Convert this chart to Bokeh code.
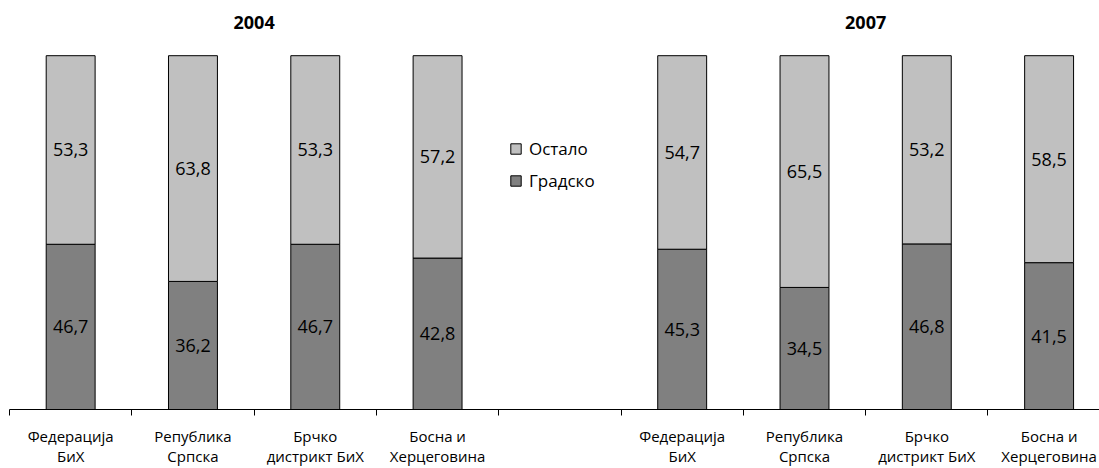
from bokeh.plotting import figure
from bokeh.models import (ColumnDataSource, Range1d, FixedTicker, Legend, LegendItem,
                          Label, LabelSet)
from bokeh.core.properties import value
from bokeh.embed import file_html
from bokeh.resources import INLINE

years = ["2004", "2007"]
regions = ["Федерација\nБиХ", "Република\nСрпска", "Брчко\nдистрикт БиХ", "Босна и\nХерцеговина"]
urban_2004 = [46.7, 36.2, 46.7, 42.8]
other_2004 = [53.3, 63.8, 53.3, 57.2]
urban_2007 = [45.3, 34.5, 46.8, 41.5]
other_2007 = [54.7, 65.5, 53.2, 58.5]
series_names = ["Градско", "Остало"]

FONT = "Open Sans"
LIGHT = "#c0c0c0"
DARK = "#808080"

# slot positions: group 1 in slots 0..3, empty slot 4, group 2 in slots 5..8
xs, urb, oth, labels = [], [], [], []
for g, (u_list, o_list) in enumerate([(urban_2004, other_2004), (urban_2007, other_2007)]):
    for i, r in enumerate(regions):
        xs.append(g * 5 + i + 0.5)
        urb.append(u_list[i])
        oth.append(o_list[i])
        labels.append(r)

src = ColumnDataSource(dict(
    x=xs, urban=urb, other=oth,
    urban_mid=[u / 2 for u in urb],
    other_mid=[u + o / 2 for u, o in zip(urb, oth)],
    urban_txt=[f"{u:.1f}".replace(".", ",") for u in urb],
    other_txt=[f"{o:.1f}".replace(".", ",") for o in oth],
))

p = figure(frame_width=1090, frame_height=409, output_backend="svg", toolbar_location=None,
           x_range=Range1d(0, 8.912), y_range=Range1d(0, 115.6),
           min_border_left=9, min_border_right=0, min_border_top=0, min_border_bottom=0)
p.outline_line_color = None
p.xgrid.visible = False
p.ygrid.visible = False
p.yaxis.visible = False
p.background_fill_color = "white"

r = p.vbar_stack(["urban", "other"], x="x", width=0.40, source=src,
                 fill_color=[DARK, LIGHT], line_color="black", line_width=1)

p.add_layout(LabelSet(x="x", y="urban_mid", text="urban_txt", source=src,
                      text_align="center", text_baseline="middle",
                      text_font=value(FONT), text_font_size="18px", text_color="black"))
p.add_layout(LabelSet(x="x", y="other_mid", text="other_txt", source=src,
                      text_align="center", text_baseline="middle",
                      text_font=value(FONT), text_font_size="18px", text_color="black"))

for g, yr in enumerate(years):
    p.add_layout(Label(x=g * 5 + 2, y=109.4, text=yr, text_align="center",
                       text_baseline="middle", text_font=FONT,
                       text_font_size="18px", text_font_style="bold", text_color="black"))

ax = p.xaxis[0]
ax.ticker = FixedTicker(ticks=xs, minor_ticks=list(range(0, 10)))
ax.major_label_overrides = {x: l for x, l in zip(xs, labels)}
ax.major_tick_out = 0
ax.major_tick_in = 0
ax.minor_tick_out = 6
ax.minor_tick_in = 0
ax.minor_tick_line_color = "black"
ax.axis_line_color = "black"
ax.axis_line_width = 1
ax.major_label_text_font = FONT
ax.major_label_text_font_size = "15px"
ax.major_label_text_line_height = 1.0
ax.major_label_text_color = "black"
ax.major_label_standoff = 10
ax.axis_label_standoff = 0

legend = Legend(items=[LegendItem(label=series_names[1], renderers=[r[1]]),
                       LegendItem(label=series_names[0], renderers=[r[0]])],
                location=(500, 217), orientation="vertical",
                glyph_width=13, glyph_height=13, label_height=13, spacing=9,
                label_standoff=7, padding=0, margin=0, border_line_color=None,
                background_fill_alpha=0,
                label_text_font=FONT, label_text_font_size="17px",
                label_text_color="black", label_text_baseline="middle")
p.add_layout(legend, "center")

open("out.html", "w").write(file_html(p, INLINE))
